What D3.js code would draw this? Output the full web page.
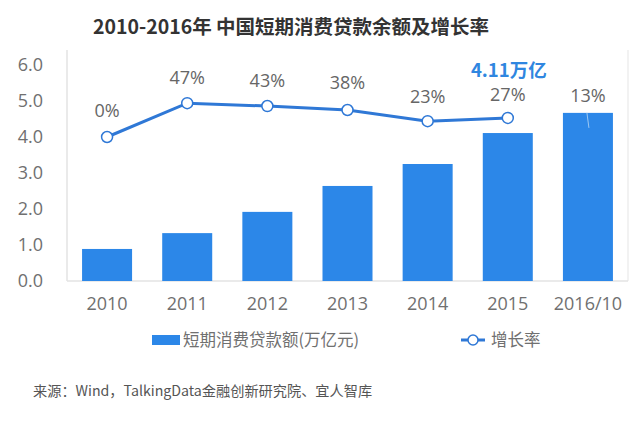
<!DOCTYPE html>
<html><head><meta charset="utf-8">
<script src="https://cdn.jsdelivr.net/npm/d3@7"></script>
<style>body{margin:0;background:#fff}svg{display:block}</style>
</head><body>
<svg id="c" width="640" height="423"></svg>
<script>
const categories = ["2010","2011","2012","2013","2014","2015","2016/10"];
const loanValues = [0.89, 1.33, 1.92, 2.64, 3.25, 4.11, 4.67];
const growthLabels = ["0%","47%","43%","38%","23%","27%","13%"];
const growthPlotY = [4.0, 4.94, 4.86, 4.75, 4.44, 4.53];
const yTicks = [0,1,2,3,4,5,6];
const highlightText = "4.11万亿";

const font = "'Open Sans','Noto Sans CJK SC',sans-serif";
const svg = d3.select("#c");
const L=67, R=628, T=65, B=281;
const x = d3.scaleBand().domain(categories).range([L,R]).paddingInner(0.376).paddingOuter(0.188);
const y = d3.scaleLinear().domain([0,6]).range([B,T]);

svg.append("text").attr("x",291).attr("y",34).attr("text-anchor","middle")
  .attr("font-family","'Noto Sans CJK SC',sans-serif").attr("font-weight","bold")
  .attr("font-size",19.5).attr("fill","#333").text("2010-2016年 中国短期消费贷款余额及增长率");

// frame lines
svg.append("line").attr("x1",L).attr("x2",L).attr("y1",T-15).attr("y2",B).attr("stroke","#e3e3e3").attr("stroke-width",1.5);
svg.append("line").attr("x1",R).attr("x2",R).attr("y1",T-15).attr("y2",B).attr("stroke","#eeeeee").attr("stroke-width",1.5);
svg.append("line").attr("x1",L).attr("x2",R).attr("y1",B).attr("y2",B).attr("stroke","#e3e3e3").attr("stroke-width",1.5);

const yAxis = svg.append("g").attr("transform",`translate(${L},0)`)
  .call(d3.axisLeft(y).tickValues(yTicks).tickFormat(d3.format(".1f")).tickSize(0).tickPadding(24));
yAxis.select(".domain").remove();
yAxis.selectAll("text").attr("font-family",font).attr("font-size",18).attr("fill","#707070");

const xAxis = svg.append("g").attr("transform",`translate(0,${B})`)
  .call(d3.axisBottom(x).tickSize(0).tickPadding(16));
xAxis.select(".domain").remove();
xAxis.selectAll("text").attr("font-family",font).attr("font-size",18).attr("fill","#707070");

const barColor = "#2c87e8";
svg.selectAll(".bar").data(loanValues).join("rect")
  .attr("x",(d,i)=>x(categories[i])).attr("width",x.bandwidth())
  .attr("y",d=>y(d)).attr("height",d=>B-y(d)).attr("fill",barColor);

// faint leader line in last bar
const lastX = x(categories[6])+x.bandwidth()/2;
svg.append("line").attr("x1",lastX-1).attr("x2",lastX+1).attr("y1",y(loanValues[6])).attr("y2",y(loanValues[6])+15)
  .attr("stroke","#9cc8f2").attr("stroke-width",1);

const lineColor = "#2f78d6";
const cx = i => x(categories[i])+x.bandwidth()/2;
svg.append("path").datum(growthPlotY)
  .attr("d",d3.line().x((d,i)=>cx(i)).y(d=>y(d)))
  .attr("fill","none").attr("stroke",lineColor).attr("stroke-width",3);
svg.selectAll(".pt").data(growthPlotY).join("circle")
  .attr("cx",(d,i)=>cx(i)).attr("cy",d=>y(d)).attr("r",5.5)
  .attr("fill","#fff").attr("stroke",lineColor).attr("stroke-width",1.5);

const labelY = [110,77,80,82,96,94,95];
svg.selectAll(".gl").data(growthLabels).join("text")
  .attr("x",(d,i)=>cx(i)).attr("y",(d,i)=>labelY[i]+6.5).attr("text-anchor","middle")
  .attr("font-family",font).attr("font-size",18).attr("fill","#666").text(d=>d);

svg.append("text").attr("x",cx(5)+1).attr("y",77).attr("text-anchor","middle")
  .attr("font-family","'Noto Sans CJK SC',sans-serif").attr("font-weight","bold")
  .attr("font-size",18.5).attr("fill","#2f86e0").text(highlightText);

// legend
svg.append("rect").attr("x",152).attr("y",335).attr("width",28).attr("height",10).attr("fill",barColor);
svg.append("text").attr("x",183).attr("y",346).attr("font-family","'Noto Sans CJK SC',sans-serif")
  .attr("font-size",16.5).attr("fill","#707070").text("短期消费贷款额(万亿元)");
svg.append("line").attr("x1",461).attr("x2",485).attr("y1",340).attr("y2",340).attr("stroke",lineColor).attr("stroke-width",3);
svg.append("circle").attr("cx",473).attr("cy",340).attr("r",5).attr("fill","#fff").attr("stroke",lineColor).attr("stroke-width",1.5);
svg.append("text").attr("x",491).attr("y",346).attr("font-family","'Noto Sans CJK SC',sans-serif")
  .attr("font-size",16.5).attr("fill","#707070").text("增长率");

svg.append("text").attr("x",33).attr("y",396).attr("font-family","'Noto Sans CJK SC',sans-serif")
  .attr("font-size",14.2).attr("fill","#555").text("来源：Wind，TalkingData金融创新研究院、宜人智库");
</script>
</body></html>
